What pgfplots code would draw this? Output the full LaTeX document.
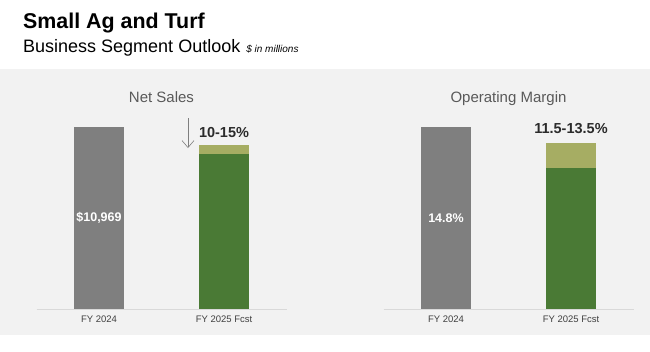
\documentclass[border=0pt]{standalone}
\usepackage{fontspec}
\setmainfont{Liberation Sans}
\usepackage{pgfplots}
\pgfplotsset{compat=1.18}
\usetikzlibrary{arrows.meta}
\definecolor{bggray}{HTML}{F2F2F2}
\definecolor{bargray}{HTML}{7F7F7F}
\definecolor{dkgreen}{HTML}{4A7A35}
\definecolor{ltgreen}{HTML}{A6AD63}
\definecolor{headgray}{HTML}{595959}
\definecolor{ticktxt}{HTML}{404040}
\definecolor{basel}{HTML}{D9D9D9}
\definecolor{lbl}{HTML}{2B2B2B}
\begin{document}
\begin{tikzpicture}
\fill[white] (0pt,0pt) rectangle (650pt,352pt);
\useasboundingbox (0pt,0pt) rectangle (650pt,352pt);
\fill[bggray] (0pt,17pt) rectangle (650pt,283pt);
% titles
\node[anchor=base west,inner sep=0pt,font=\fontsize{21.4}{24}\selectfont\bfseries] at (23pt,323pt) {Small Ag and Turf};
\node[anchor=base west,inner sep=0pt] at (23pt,299pt) {\fontsize{18}{21}\selectfont Business Segment Outlook\hspace{6pt}{\fontsize{10}{12}\selectfont\itshape \$ in millions}};
\node[anchor=base,inner sep=0pt,text=headgray,font=\fontsize{15}{18}\selectfont] at (161.5pt,249pt) {Net Sales};
\node[anchor=base,inner sep=0pt,text=headgray,font=\fontsize{15}{18}\selectfont] at (508.5pt,249pt) {Operating Margin};

\pgfplotsset{
  mybar/.style={
    ybar stacked, bar width=50pt, x=125pt,
    xmin=-0.5, xmax=1.5, ymin=0,
    clip=false,
    axis y line=none, axis x line*=bottom,
    x axis line style={draw=basel, line width=0.6pt, -},
    xtick={0,1}, xticklabels={FY 2024, FY 2025 Fcst},
    major tick length=0pt,
    xticklabel style={font=\fontsize{9.5}{11}\selectfont, text=ticktxt, anchor=base, yshift=-14pt, inner sep=0pt},
    anchor=south west,
  }
}
% Net sales
\begin{axis}[mybar, at={(36.5pt,43pt)}, y=0.016593pt, ymax=13000]
\addplot[fill=bargray, draw=none] coordinates {(0,10969) (1,0)};
\addplot[fill=dkgreen, draw=none] coordinates {(0,0) (1,9324)};
\addplot[fill=ltgreen, draw=none] coordinates {(0,0) (1,548)};
\coordinate (nsval) at (axis cs:0,5484);
\node[anchor=base,inner sep=0pt,text=lbl,font=\fontsize{14.5}{17}\selectfont\bfseries] at (axis cs:1,10316) {10-15\%};
\draw[draw=bargray, line width=0.6pt, -{Straight Barb[length=7pt,width=12pt]}] (axis cs:0.712,11511) -- (axis cs:0.712,9703);
\end{axis}
% Operating margin
\begin{axis}[mybar, at={(383.5pt,43pt)}, y=12.297pt, ymax=17.5]
\addplot[fill=bargray, draw=none] coordinates {(0,14.8) (1,0)};
\addplot[fill=dkgreen, draw=none] coordinates {(0,0) (1,11.5)};
\addplot[fill=ltgreen, draw=none] coordinates {(0,0) (1,2.0)};
\coordinate (omval) at (axis cs:0,7.4);
\node[anchor=base,inner sep=0pt,text=lbl,font=\fontsize{14.5}{17}\selectfont\bfseries] at (axis cs:1,14.3) {11.5-13.5\%};
\end{axis}
\node[text=white,font=\fontsize{12.5}{14}\selectfont\bfseries] at (nsval) {\$10,969};
\node[text=white,font=\fontsize{12.5}{14}\selectfont\bfseries] at (omval) {14.8\%};
\end{tikzpicture}
\end{document}
